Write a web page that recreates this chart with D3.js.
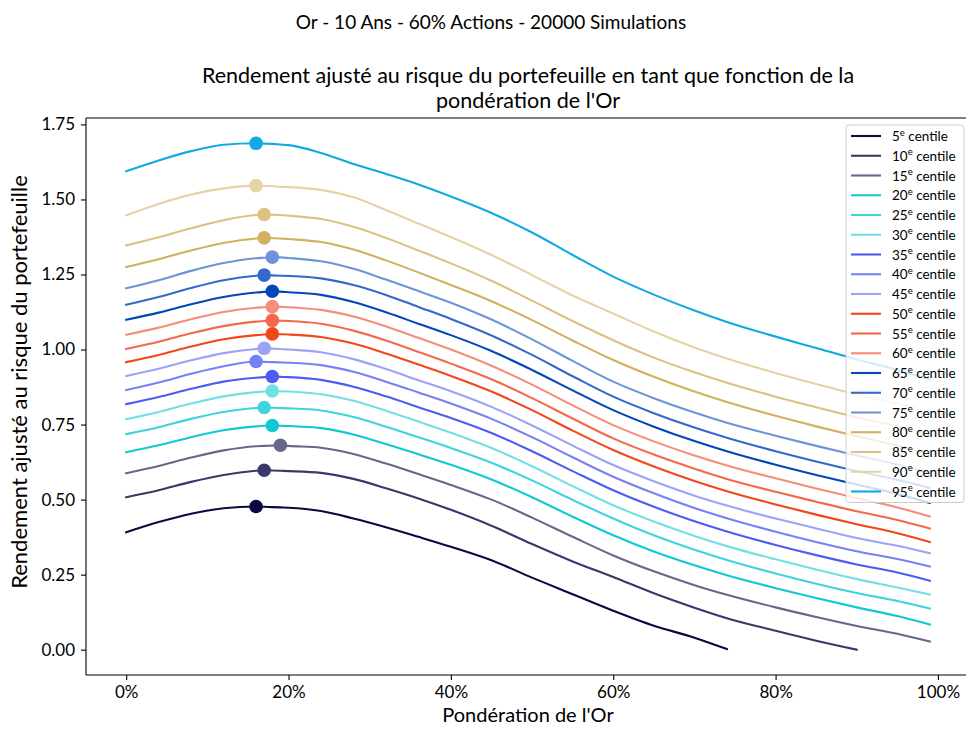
<!DOCTYPE html>
<html>
<head>
<meta charset="utf-8">
<script src="https://cdn.jsdelivr.net/npm/d3@7/dist/d3.min.js"></script>
<style>
  html, body { margin: 0; padding: 0; background: #fff; }
  svg { display: block; }
  text { font-family: Lato, "Noto Sans", sans-serif; fill: #000; }
</style>
</head>
<body>
<svg id="chart" width="966" height="729"></svg>
<script>
// Gold weight in the portfolio (%)
const weights = [0,4,8,12,16,17,18,19,20,24,28,32,36,40,45,50,55,60,65,70,74,80,85,90,95,99];

// Percentile labels
const centiles = [5,10,15,20,25,30,35,40,45,50,55,60,65,70,75,80,85,90,95];

// Risk-adjusted return for each percentile, one value per weight
const p05 = [0.391,0.425,0.453,0.471,0.477,0.476,0.475,0.474,0.473,0.462,0.437,0.408,0.376,0.343,0.298,0.240,0.185,0.130,0.080,0.040,0.002,null,null,null,null,null];
const p10 = [0.508,0.531,0.559,0.582,0.596,0.598,0.597,0.596,0.595,0.589,0.569,0.538,0.504,0.466,0.413,0.352,0.294,0.242,0.188,0.140,0.105,0.063,0.030,0.000,null,null];
const p15 = [0.588,0.612,0.640,0.664,0.678,0.679,0.680,0.681,0.679,0.673,0.652,0.620,0.585,0.549,0.500,0.440,0.376,0.314,0.261,0.215,0.183,0.141,0.109,0.079,0.053,0.027];
const p20 = [0.658,0.681,0.708,0.731,0.744,0.746,0.747,0.746,0.745,0.738,0.717,0.685,0.651,0.616,0.567,0.508,0.443,0.381,0.327,0.281,0.248,0.205,0.172,0.141,0.112,0.084];
const p25 = [0.718,0.741,0.769,0.792,0.805,0.807,0.806,0.805,0.804,0.797,0.775,0.743,0.708,0.672,0.623,0.564,0.499,0.437,0.381,0.333,0.299,0.254,0.220,0.189,0.162,0.137];
const p30 = [0.768,0.792,0.820,0.844,0.858,0.860,0.862,0.861,0.860,0.851,0.829,0.796,0.760,0.723,0.672,0.611,0.545,0.481,0.427,0.379,0.345,0.301,0.267,0.235,0.207,0.184];
const p35 = [0.818,0.842,0.869,0.893,0.906,0.908,0.910,0.909,0.908,0.899,0.876,0.844,0.808,0.772,0.722,0.661,0.595,0.531,0.476,0.428,0.394,0.349,0.315,0.284,0.257,0.230];
const p40 = [0.865,0.890,0.919,0.944,0.960,0.959,0.958,0.957,0.956,0.948,0.926,0.893,0.857,0.820,0.769,0.708,0.641,0.576,0.521,0.472,0.438,0.393,0.359,0.328,0.302,0.277];
const p45 = [0.912,0.936,0.964,0.988,1.002,1.004,1.003,1.002,1.000,0.991,0.968,0.935,0.898,0.861,0.809,0.747,0.680,0.615,0.561,0.513,0.480,0.437,0.404,0.372,0.346,0.321];
const p50 = [0.958,0.982,1.010,1.034,1.048,1.050,1.052,1.051,1.050,1.042,1.020,0.987,0.950,0.912,0.860,0.798,0.730,0.665,0.610,0.562,0.528,0.484,0.450,0.418,0.388,0.359];
const p55 = [1.002,1.026,1.054,1.078,1.093,1.095,1.097,1.096,1.095,1.086,1.063,1.030,0.992,0.953,0.901,0.838,0.770,0.704,0.650,0.603,0.569,0.526,0.493,0.461,0.432,0.404];
const p60 = [1.049,1.073,1.101,1.125,1.139,1.141,1.143,1.142,1.141,1.132,1.110,1.077,1.039,1.000,0.946,0.883,0.814,0.748,0.694,0.647,0.614,0.571,0.537,0.505,0.474,0.444];
const p65 = [1.099,1.123,1.151,1.175,1.190,1.192,1.194,1.193,1.191,1.182,1.158,1.124,1.086,1.048,0.995,0.932,0.864,0.798,0.743,0.695,0.661,0.616,0.582,0.550,0.519,0.489];
const p70 = [1.149,1.175,1.205,1.231,1.246,1.248,1.247,1.246,1.245,1.237,1.215,1.182,1.142,1.102,1.047,0.982,0.911,0.843,0.788,0.740,0.706,0.661,0.627,0.595,0.566,0.539];
const p75 = [1.204,1.231,1.262,1.288,1.304,1.306,1.308,1.307,1.305,1.294,1.269,1.233,1.195,1.156,1.100,1.034,0.962,0.893,0.838,0.790,0.756,0.713,0.679,0.647,0.617,0.589];
const p80 = [1.275,1.301,1.330,1.355,1.370,1.372,1.371,1.370,1.368,1.358,1.333,1.297,1.257,1.215,1.161,1.098,1.030,0.965,0.909,0.860,0.825,0.779,0.744,0.711,0.680,0.650];
const p85 = [1.347,1.374,1.404,1.431,1.448,1.450,1.449,1.448,1.446,1.435,1.409,1.372,1.330,1.287,1.229,1.163,1.095,1.031,0.973,0.924,0.889,0.843,0.808,0.774,0.744,0.714];
const p90 = [1.447,1.485,1.516,1.537,1.546,1.545,1.544,1.542,1.541,1.532,1.507,1.465,1.420,1.375,1.315,1.248,1.180,1.120,1.060,1.007,0.970,0.922,0.885,0.850,0.819,0.789];
const p95 = [1.594,1.630,1.661,1.682,1.687,1.686,1.685,1.683,1.681,1.655,1.618,1.585,1.550,1.510,1.455,1.390,1.315,1.243,1.183,1.130,1.092,1.043,1.005,0.967,0.932,0.900];

const seriesValues = [p05,p10,p15,p20,p25,p30,p35,p40,p45,p50,p55,p60,p65,p70,p75,p80,p85,p90,p95];

const colors = ["#0a0940","#39386a","#67678c","#10c8d2","#3ed4dc","#70e0e4",
                "#4c5cf2","#7582f3","#9ba3f6","#f2461b","#f4694a","#f68d79",
                "#0346b8","#3369cd","#6c94da","#d2b05e","#dcc183","#e6d3a5","#12a9e2"];

const xTicks = [0,20,40,60,80,100];
const yTicks = [0,0.25,0.5,0.75,1.0,1.25,1.5,1.75];

const suptitle = "Or - 10 Ans - 60% Actions - 20000 Simulations";
const titleLines = ["Rendement ajusté au risque du portefeuille en tant que fonction de la",
                    "pondération de l'Or"];
const xLabel = "Pondération de l'Or";
const yLabel = "Rendement ajusté au risque du portefeuille";

// Plot frame
const plot = { left: 86, top: 118, right: 970, bottom: 675 };

const svg = d3.select("#chart");

// Scales with 5% padding around the data range
const xMin = d3.min(weights), xMax = d3.max(weights);
const xPad = (xMax - xMin) * 0.05;
const x = d3.scaleLinear().domain([xMin - xPad, xMax + xPad]).range([plot.left, plot.right]);

const allVals = seriesValues.flat().filter(v => v != null);
const yLo = d3.min(allVals), yHi = d3.max(allVals);
const yPad = (yHi - yLo) * 0.05;
const y = d3.scaleLinear().domain([yLo - yPad, yHi + yPad]).range([plot.bottom, plot.top]);

// Axes
const xAxis = d3.axisBottom(x).tickValues(xTicks).tickFormat(d => d + "%").tickSize(5).tickPadding(6);
const yAxis = d3.axisLeft(y).tickValues(yTicks).tickFormat(d3.format(".2f")).tickSize(5).tickPadding(6);

const gx = svg.append("g").attr("transform", `translate(0,${plot.bottom})`).call(xAxis);
const gy = svg.append("g").attr("transform", `translate(${plot.left},0)`).call(yAxis);
[gx, gy].forEach(g => {
  g.select(".domain").remove();
  g.selectAll(".tick line").attr("stroke", "#000").attr("stroke-width", 1.1);
  g.selectAll(".tick text").attr("font-size", 17).attr("fill", "#000")
    .style("font-family", "Lato, 'Noto Sans', sans-serif");
});

// Spines
const spines = svg.append("g").attr("stroke", "#000").attr("stroke-width", 1.1).attr("fill", "none");
spines.append("line").attr("x1", plot.left).attr("x2", plot.left).attr("y1", plot.top).attr("y2", plot.bottom);
spines.append("line").attr("x1", plot.left).attr("x2", plot.right).attr("y1", plot.top).attr("y2", plot.top);
spines.append("line").attr("x1", plot.left).attr("x2", plot.right).attr("y1", plot.bottom).attr("y2", plot.bottom);
spines.append("line").attr("x1", plot.right).attr("x2", plot.right).attr("y1", plot.top).attr("y2", plot.bottom);

// Curves and their maximum markers
const line = d3.line()
  .defined(d => d.v != null)
  .x(d => x(d.w))
  .y(d => y(d.v))
  .curve(d3.curveMonotoneX);

const curves = svg.append("g");
seriesValues.forEach((vals, i) => {
  const pts = weights.map((w, j) => ({ w, v: vals[j] }));
  curves.append("path")
    .datum(pts)
    .attr("d", line)
    .attr("fill", "none")
    .attr("stroke", colors[i])
    .attr("stroke-width", 2.1)
    .attr("stroke-linejoin", "round")
    .attr("stroke-linecap", "square");
  const k = d3.maxIndex(vals);
  curves.append("circle")
    .attr("cx", x(weights[k]))
    .attr("cy", y(vals[k]))
    .attr("r", 6.8)
    .attr("fill", colors[i]);
});

// Titles and axis labels
const cx = (plot.left + plot.right) / 2;
svg.append("text").attr("x", 491).attr("y", 29).attr("text-anchor", "middle")
  .attr("font-size", 19).text(suptitle);
titleLines.forEach((t, i) => {
  svg.append("text").attr("x", cx).attr("y", 83 + i * 25).attr("text-anchor", "middle")
    .attr("font-size", 21.5).text(t);
});
svg.append("text").attr("x", cx).attr("y", 722).attr("text-anchor", "middle")
  .attr("font-size", 20).text(xLabel);
svg.append("text")
  .attr("transform", `translate(27,382) rotate(-90)`)
  .attr("text-anchor", "middle").attr("font-size", 22).text(yLabel);

// Legend
const leg = { x: 846, y: 125, w: 118, rowH: 19.75, first: 11 };
const legH = leg.first * 2 + (centiles.length - 1) * leg.rowH;
const lg = svg.append("g");
lg.append("rect").attr("x", leg.x).attr("y", leg.y).attr("width", leg.w).attr("height", legH)
  .attr("rx", 3).attr("fill", "#fff").attr("fill-opacity", 0.8)
  .attr("stroke", "#cccccc").attr("stroke-width", 1);
centiles.forEach((c, i) => {
  const yy = leg.y + leg.first + i * leg.rowH;
  lg.append("line").attr("x1", leg.x + 5).attr("x2", leg.x + 35).attr("y1", yy).attr("y2", yy)
    .attr("stroke", colors[i]).attr("stroke-width", 2.1);
  const t = lg.append("text").attr("x", leg.x + 46).attr("y", yy + 5).attr("font-size", 13.5);
  t.append("tspan").text(c);
  t.append("tspan").attr("font-size", 9.5).attr("dy", -5.5).text("e");
  t.append("tspan").attr("dy", 5.5).text(" centile");
});
</script>
</body>
</html>
